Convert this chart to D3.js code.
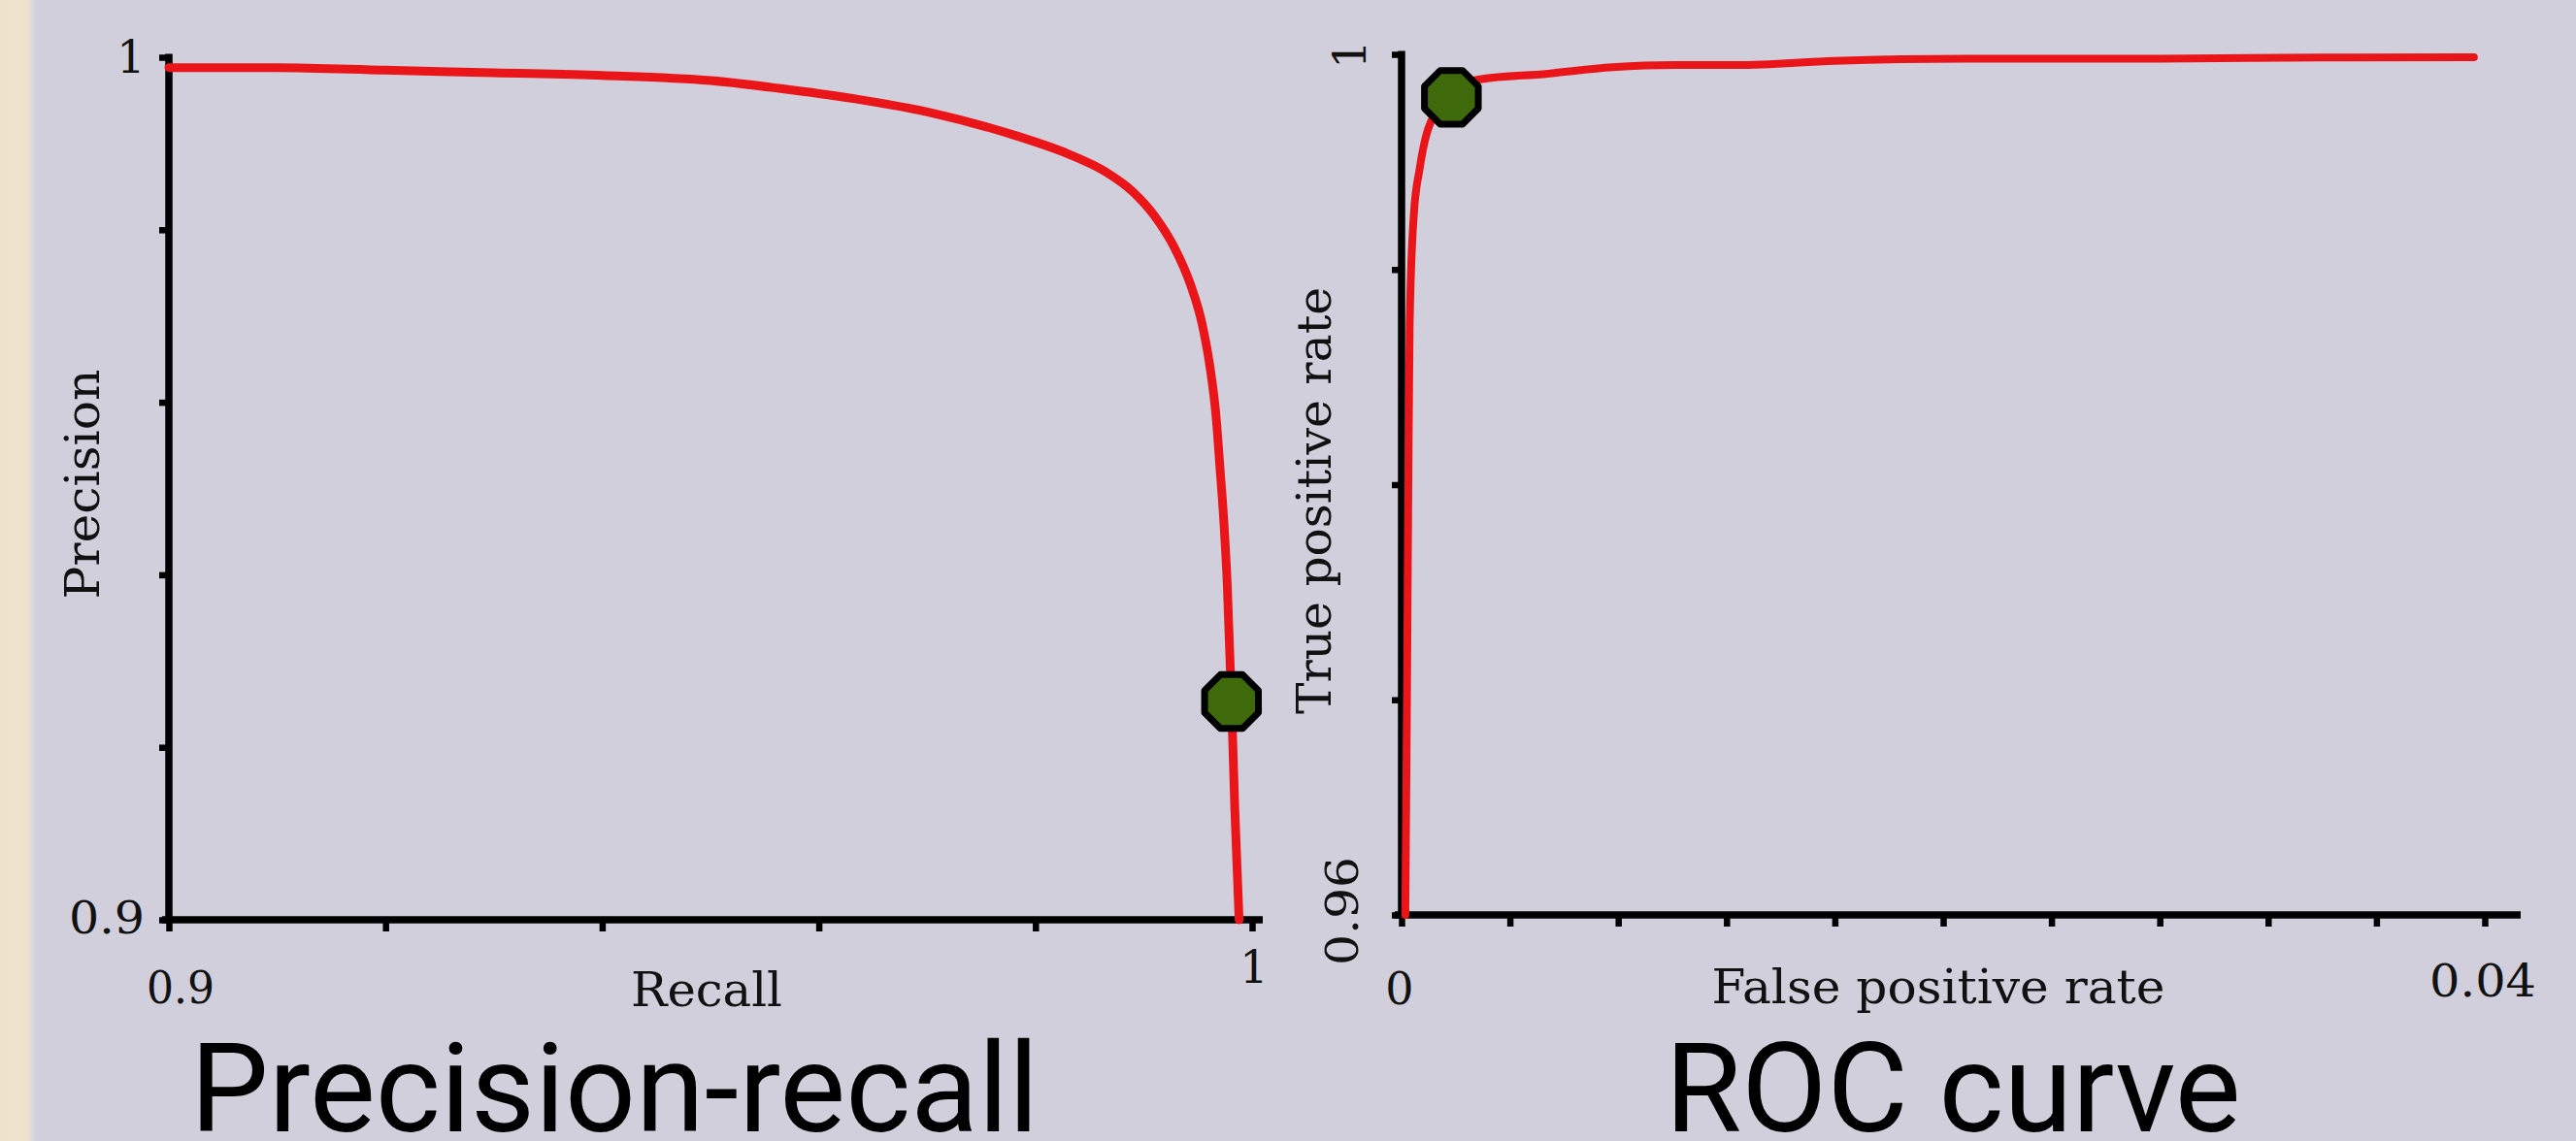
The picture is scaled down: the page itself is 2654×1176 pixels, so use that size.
<!DOCTYPE html>
<html>
<head>
<meta charset="utf-8">
<script src="https://cdn.jsdelivr.net/npm/d3@7"></script>
<style>
  html, body { margin: 0; padding: 0; background: #d0cfdb; }
  svg { display: block; }
</style>
</head>
<body>
<svg id="chart" width="2654" height="1176"></svg>
<script>
// ---------- DATA ----------
const prRecall    = [0.9, 0.91, 0.92, 0.93, 0.94, 0.95, 0.9563, 0.9632, 0.9706, 0.9782, 0.9830, 0.9865, 0.9890, 0.9910, 0.9928, 0.9943, 0.9954, 0.9961, 0.9967, 0.9970, 0.9974, 0.9977, 0.9981, 0.9984, 0.9988];
const prPrecision = [0.9988, 0.9988, 0.9985, 0.9982, 0.9979, 0.9973, 0.9964, 0.9952, 0.9935, 0.9909, 0.9888, 0.9867, 0.9844, 0.9816, 0.9780, 0.9737, 0.9690, 0.9642, 0.9580, 0.9530, 0.9460, 0.9391, 0.9253, 0.9130, 0.9000];
const prMarker    = [0.9981, 0.9253];

const rocFpr = [0.00014, 0.0002, 0.00025, 0.0003, 0.00045, 0.00067, 0.00103, 0.00184, 0.0027, 0.0054, 0.0078, 0.0101, 0.0124, 0.016, 0.0208, 0.028, 0.034, 0.0396];
const rocTpr = [0.96, 0.970, 0.980, 0.9875, 0.9925, 0.9947, 0.9967, 0.9980, 0.9988, 0.9991, 0.9994, 0.9995, 0.9995, 0.9997, 0.9998, 0.9998, 0.99985, 0.99986];
const rocMarker = [0.00184, 0.9980];

const prXTicks  = [0.9, 0.92, 0.94, 0.96, 0.98, 1.0];
const prYTicks  = [0.9, 0.92, 0.94, 0.96, 0.98, 1.0];
const rocXTicks = [0, 0.004, 0.008, 0.012, 0.016, 0.02, 0.024, 0.028, 0.032, 0.036, 0.04];
const rocYTicks = [0.96, 0.97, 0.98, 0.99, 1.0];

const prXLabels  = ["0.9", "1"];
const prYLabels  = ["0.9", "1"];
const rocXLabels = ["0", "0.04"];
const rocYLabels = ["0.96", "1"];

const titles = ["Precision-recall", "ROC curve"];
const axisTitles = { prX: "Recall", prY: "Precision", rocX: "False positive rate", rocY: "True positive rate" };

// ---------- STYLE ----------
const RED = "#ea1519";
const GREEN = "#3e6a0c";
const serif = "'DejaVu Serif', 'Liberation Serif', serif";

const svg = d3.select("#chart");

// background + left beige strip
svg.append("rect").attr("width", 2654).attr("height", 1176).attr("fill", "#d0cfdb");
const grad = svg.append("defs").append("linearGradient").attr("id", "edge").attr("x1", "0").attr("x2", "1");
grad.append("stop").attr("offset", "0").attr("stop-color", "#eee2cc");
grad.append("stop").attr("offset", "0.75").attr("stop-color", "#efe3cd");
grad.append("stop").attr("offset", "0.85").attr("stop-color", "#dedbdc");
grad.append("stop").attr("offset", "1").attr("stop-color", "#d0cfdb");
svg.append("rect").attr("x", 0).attr("y", 0).attr("width", 38).attr("height", 1176).attr("fill", "url(#edge)");

// ---------- SCALES ----------
const prX = d3.scaleLinear().domain([0.9, 1.0]).range([174, 1290]);
const prY = d3.scaleLinear().domain([0.9, 1.0]).range([948, 59]);
const rocX = d3.scaleLinear().domain([0, 0.04]).range([1444, 2560]);
const rocY = d3.scaleLinear().domain([0.96, 1.0]).range([943, 56]);

function octagon(cx, cy, r) {
  const pts = d3.range(8).map(i => {
    const a = Math.PI / 8 + i * Math.PI / 4;
    return [cx + r * Math.cos(a), cy + r * Math.sin(a)];
  });
  return "M" + pts.map(p => p.join(",")).join("L") + "Z";
}

function drawPanel(opt) {
  const g = svg.append("g");
  const { x, y } = opt;
  const [x0, x1] = x.range();
  const [y0, y1] = y.range();

  const ax = g.append("g").attr("transform", `translate(0,${y0})`)
    .call(d3.axisBottom(x).tickValues(opt.xTicks).tickSize(12).tickSizeOuter(0).tickFormat(""));
  const ay = g.append("g").attr("transform", `translate(${x0},0)`)
    .call(d3.axisLeft(y).tickValues(opt.yTicks).tickSize(10).tickSizeOuter(0).tickFormat(""));
  [ax, ay].forEach(a => {
    a.select(".domain").remove();
    a.selectAll(".tick line").attr("stroke", "#000").attr("stroke-width", 6.5);
  });
  g.append("line").attr("x1", x0 - 7).attr("x2", opt.xEnd).attr("y1", y0).attr("y2", y0)
    .attr("stroke", "#000").attr("stroke-width", 7.5);
  g.append("line").attr("x1", x0).attr("x2", x0).attr("y1", y0 + 3).attr("y2", y1 - 3.5)
    .attr("stroke", "#000").attr("stroke-width", 7.5);

  const line = d3.line().x(d => x(d[0])).y(d => y(d[1])).curve(d3.curveMonotoneX);
  g.append("path").datum(d3.zip(opt.xs, opt.ys))
    .attr("d", line).attr("fill", "none").attr("stroke", RED)
    .attr("stroke-width", opt.lineW).attr("stroke-linejoin", "round").attr("stroke-linecap", "round");

  g.append("path").attr("d", octagon(x(opt.marker[0]), y(opt.marker[1]), 30))
    .attr("fill", GREEN).attr("stroke", "#000").attr("stroke-width", 7).attr("stroke-linejoin", "round");

  opt.tickTexts.forEach(t => {
    const el = g.append("text").text(t.text)
      .attr("font-family", serif).attr("font-size", 46).attr("fill", "#111")
      .attr("text-anchor", "middle").attr("dominant-baseline", "central");
    if (t.len) el.attr("textLength", t.len).attr("lengthAdjust", "spacingAndGlyphs");
    if (t.rot) el.attr("transform", `translate(${t.x},${t.y}) rotate(-90)`);
    else el.attr("x", t.x).attr("y", t.y);
  });
  opt.axisTexts.forEach(t => {
    const el = g.append("text").text(t.text)
      .attr("font-family", serif).attr("font-size", 48).attr("fill", "#111")
      .attr("text-anchor", "middle").attr("dominant-baseline", "central")
      .attr("textLength", t.len).attr("lengthAdjust", "spacingAndGlyphs");
    if (t.rot) el.attr("transform", `translate(${t.x},${t.y}) rotate(-90)`);
    else el.attr("x", t.x).attr("y", t.y);
  });
  g.append("text").text(opt.title)
    .attr("x", opt.titleX).attr("y", 1166)
    .attr("font-family", "Roboto, 'Noto Sans', sans-serif").attr("font-size", 128)
    .attr("fill", "#000").attr("text-anchor", "middle");
}

drawPanel({
  x: prX, y: prY, xEnd: 1301, lineW: 9,
  xTicks: prXTicks, yTicks: prYTicks,
  xs: prRecall, ys: prPrecision, marker: prMarker,
  tickTexts: [
    { text: prYLabels[1], x: 135, y: prY(1.0) },
    { text: prYLabels[0], x: 110, y: prY(0.9) - 2, len: 78 },
    { text: prXLabels[0], x: prX(0.9) + 12, y: 1018, len: 70 },
    { text: prXLabels[1], x: prX(1.0) + 2, y: 997 }
  ],
  axisTexts: [
    { text: axisTitles.prX, x: 728, y: 1020, len: 156 },
    { text: axisTitles.prY, x: 85, y: 499, len: 237, rot: true }
  ],
  title: titles[0], titleX: 633
});

drawPanel({
  x: rocX, y: rocY, xEnd: 2597, lineW: 8,
  xTicks: rocXTicks, yTicks: rocYTicks,
  xs: rocFpr, ys: rocTpr, marker: rocMarker,
  tickTexts: [
    { text: rocYLabels[1], x: 1391, y: rocY(1.0), rot: true },
    { text: rocYLabels[0], x: 1383, y: rocY(0.96) - 4, rot: true, len: 112 },
    { text: rocXLabels[0], x: rocX(0) - 2, y: 1019 },
    { text: rocXLabels[1], x: rocX(0.04) - 2, y: 1011, len: 110 }
  ],
  axisTexts: [
    { text: axisTitles.rocX, x: 1997, y: 1017, len: 467 },
    { text: axisTitles.rocY, x: 1354, y: 516, len: 440, rot: true }
  ],
  title: titles[1], titleX: 2012
});
</script>
</body>
</html>
